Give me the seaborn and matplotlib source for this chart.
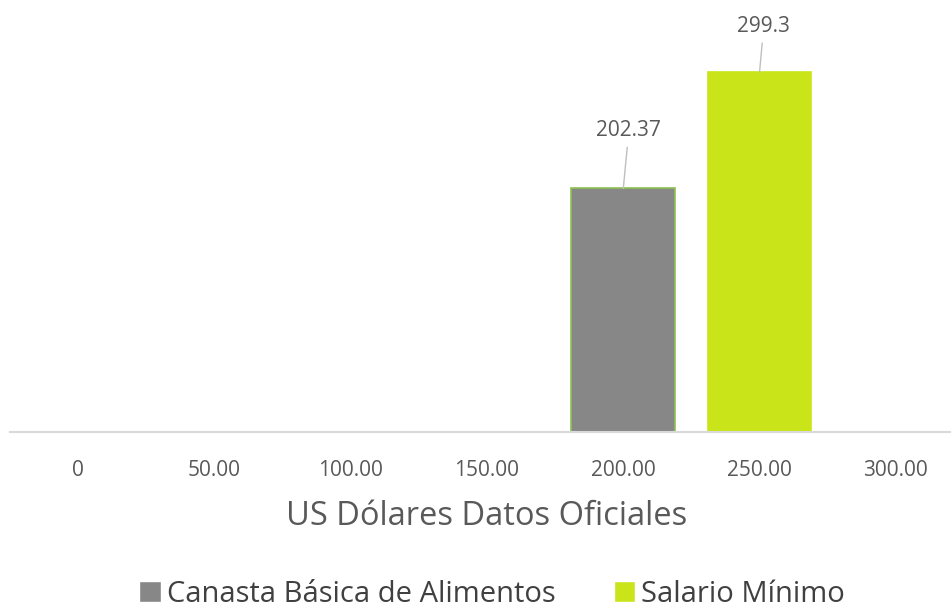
import pandas as pd
import matplotlib.pyplot as plt
import seaborn as sns

# data
categories = ["0", "50.00", "100.00", "150.00", "200.00", "250.00", "300.00"]
series = ["Canasta Básica de Alimentos", "Salario Mínimo"]
series_category = ["200.00", "250.00"]
series_values = [202.37, 299.3]
value_labels = ["202.37", "299.3"]

colors = {"Canasta Básica de Alimentos": "#878787", "Salario Mínimo": "#C9E519"}
edges = ["#8CC152", "#C9E519"]

df = pd.DataFrame({"Categoria": series_category, "Valor": series_values, "Serie": series})

sns.set_style("white")
plt.rcParams["font.family"] = ["Open Sans", "DejaVu Sans"]

fig = plt.figure(figsize=(9.51, 6.13), dpi=100)
ax = fig.add_axes([10 / 951, 1 - 432 / 613, 954 / 951, 420 / 613])

sns.barplot(data=df, x="Categoria", y="Valor", hue="Serie", order=categories,
            hue_order=series, palette=colors, dodge=False, width=0.76,
            saturation=1, ax=ax, legend=True)

for patch, ec in zip(ax.patches, edges):
    patch.set_edgecolor(ec)
    patch.set_linewidth(1.2)

ax.set_ylim(0, 349)
ax.set_yticks([])
ax.set_ylabel("")
for s in ["top", "left", "right"]:
    ax.spines[s].set_visible(False)
ax.spines["bottom"].set_color("#D9D9D9")
ax.spines["bottom"].set_linewidth(1.5)

ax.tick_params(axis="x", length=0, pad=20, labelsize=15, labelcolor="#595959")
ax.set_xlabel("US Dólares Datos Oficiales", fontsize=23.5, color="#595959", labelpad=14)

# value labels with short leader lines
offsets = [(4, 34), (3, 25)]
for cat, val, lab, off in zip(series_category, series_values, value_labels, offsets):
    xi = categories.index(cat)
    ax.annotate(lab, xy=(xi, val), xytext=off, textcoords="offset points",
                ha="center", va="bottom", fontsize=15, color="#595959",
                arrowprops=dict(arrowstyle="-", color="#BFBFBF", lw=1,
                                shrinkA=2, shrinkB=0))

handles, labels = ax.get_legend_handles_labels()
ax.get_legend().remove()
fig.legend(handles, labels, loc="center", bbox_to_anchor=(492 / 951, 1 - 594 / 613),
           ncol=2, frameon=False, fontsize=21, handlelength=0.75, handleheight=0.75,
           handletextpad=0.2, columnspacing=2.0, labelcolor="#404040")

fig.savefig("out.png", dpi=100)
